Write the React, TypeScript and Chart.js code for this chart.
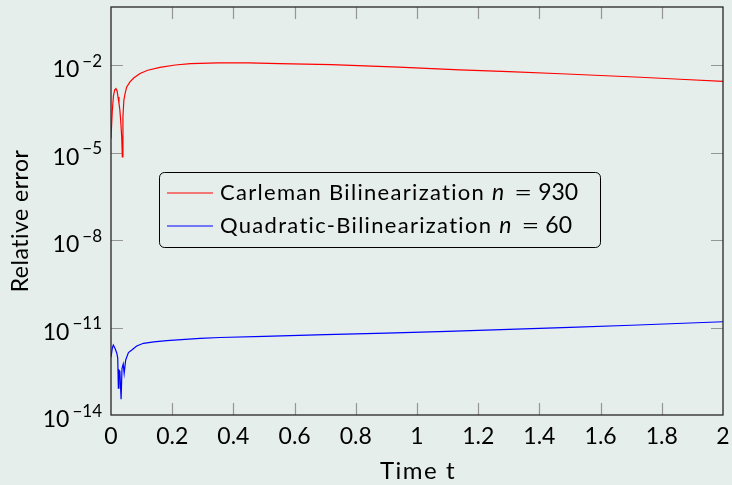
import { useEffect, useRef } from "react";
import { Chart, registerables } from "chart.js";

Chart.register(...registerables);

// Relative error over time, stored as log10 of the error.
const carlemanTime = [
  0, 0.004, 0.008, 0.012, 0.016, 0.02, 0.023, 0.026, 0.029, 0.032, 0.035, 0.037,
  0.039, 0.042, 0.046, 0.051, 0.062, 0.075, 0.095, 0.12, 0.16, 0.21, 0.26, 0.35,
  0.45, 0.55, 0.72, 0.94, 1.14, 1.3, 1.47, 1.6, 1.73, 1.86, 2.0,
];
const carlemanLog10Error = [
  -4.51, -3.6, -3.05, -2.85, -2.8, -2.88, -3.09, -3.3, -3.54, -3.95, -4.46, -5.14,
  -3.77, -3.2, -2.97, -2.75, -2.57, -2.43, -2.28, -2.17, -2.07, -1.99, -1.94, -1.92,
  -1.92, -1.94, -1.98, -2.06, -2.16, -2.22, -2.29, -2.35, -2.41, -2.48, -2.55,
];

const quadraticTime = [
  0, 0.004, 0.0075, 0.013, 0.019, 0.022, 0.024, 0.026, 0.029, 0.033, 0.036, 0.04,
  0.043, 0.048, 0.057, 0.068, 0.084, 0.106, 0.14, 0.182, 0.291, 0.356, 0.5, 0.7,
  0.9, 1.1, 1.3, 1.5, 1.7, 1.85, 2.0,
];
const quadraticLog10Error = [
  -12.02, -11.72, -11.6, -11.71, -11.88, -12.05, -13.08, -12.46, -12.5, -13.46, -12.4, -12.25,
  -12.57, -12.11, -11.86, -11.77, -11.63, -11.54, -11.49, -11.45, -11.37, -11.34, -11.3, -11.245,
  -11.19, -11.13, -11.06, -10.99, -10.92, -10.86, -10.8,
];

const seriesNames = ["Carleman Bilinearization", "Quadratic-Bilinearization"];
const seriesOrders = [930, 60];
const seriesColors = ["#ff0000", "#0000ff"];

const timeTicks = [0, 0.2, 0.4, 0.6, 0.8, 1, 1.2, 1.4, 1.6, 1.8, 2];
const errorTickExponents = [-14, -11, -8, -5, -2];

const FONT = "Lato, 'Liberation Sans', sans-serif";
const BG = "rgb(229,238,235)";

const toPoints = (t: number[], e: number[]) => t.map((x, i) => ({ x, y: Math.pow(10, e[i]) }));

const framePlugin = {
  id: "frame",
  beforeDatasetsDraw(chart: any) {
    const { ctx, chartArea: a, scales } = chart;
    ctx.save();
    ctx.strokeStyle = "rgb(150,150,150)";
    ctx.lineWidth = 1.2;
    ctx.beginPath();
    for (const v of timeTicks) {
      const x = Math.round(scales.x.getPixelForValue(v)) + 0.5;
      if (v === 0 || v === 2) continue;
      ctx.moveTo(x, a.bottom);
      ctx.lineTo(x, a.bottom - 12);
      ctx.moveTo(x, a.top);
      ctx.lineTo(x, a.top + 12);
    }
    for (const e of errorTickExponents) {
      const y = Math.round(scales.y.getPixelForValue(Math.pow(10, e))) + 0.5;
      if (e === -14) continue;
      ctx.moveTo(a.left, y);
      ctx.lineTo(a.left + 12, y);
      ctx.moveTo(a.right, y);
      ctx.lineTo(a.right - 12, y);
    }
    ctx.stroke();
    ctx.restore();
  },
  afterDraw(chart: any) {
    const { ctx, chartArea: a, scales } = chart;
    ctx.save();
    // axis box
    ctx.strokeStyle = "#262626";
    ctx.lineWidth = 1.3;
    ctx.strokeRect(a.left, a.top, a.right - a.left, a.bottom - a.top);

    ctx.fillStyle = "#000";
    // x tick labels
    ctx.font = `23px ${FONT}`;
    ctx.textAlign = "center";
    ctx.textBaseline = "alphabetic";
    for (const v of timeTicks) {
      const x = scales.x.getPixelForValue(v);
      ctx.fillText(String(v), x, a.bottom + 28.5);
    }

    // y tick labels as powers of ten
    for (const e of errorTickExponents) {
      const y = scales.y.getPixelForValue(Math.pow(10, e));
      const sup = "\u2212" + Math.abs(e);
      ctx.font = `17px ${FONT}`;
      const ws = ctx.measureText(sup).width;
      ctx.font = `23px ${FONT}`;
      const wb = ctx.measureText("10").width;
      const right = a.left - 9;
      ctx.textAlign = "left";
      ctx.fillText("10", right - ws - wb - 3, y + 12);
      ctx.font = `17px ${FONT}`;
      ctx.fillText(sup, right - ws, y + 1.5);
    }

    // axis titles
    ctx.font = `24px ${FONT}`;
    ctx.textAlign = "center";
    (ctx as any).letterSpacing = "1.5px";
    ctx.fillText("Time t", (a.left + a.right) / 2 + 1, 479);
    (ctx as any).letterSpacing = "0.5px";
    ctx.save();
    ctx.translate(28, 221);
    ctx.rotate(-Math.PI / 2);
    ctx.font = `23px ${FONT}`;
    ctx.fillText("Relative error", 0, 0);
    ctx.restore();
    (ctx as any).letterSpacing = "0px";

    // legend
    const bx = 159.5, by = 172.5, bw = 441, bh = 75, r = 5;
    ctx.beginPath();
    ctx.moveTo(bx + r, by);
    ctx.arcTo(bx + bw, by, bx + bw, by + bh, r);
    ctx.arcTo(bx + bw, by + bh, bx, by + bh, r);
    ctx.arcTo(bx, by + bh, bx, by, r);
    ctx.arcTo(bx, by, bx + bw, by, r);
    ctx.closePath();
    ctx.fillStyle = BG;
    ctx.fill();
    ctx.strokeStyle = "#000";
    ctx.lineWidth = 1;
    ctx.stroke();

    seriesNames.forEach((name, i) => {
      const rowY = 193 + i * 33;
      ctx.strokeStyle = seriesColors[i];
      ctx.lineWidth = 1.2;
      ctx.beginPath();
      ctx.moveTo(167, rowY);
      ctx.lineTo(213, rowY);
      ctx.stroke();

      ctx.fillStyle = "#000";
      ctx.textAlign = "left";
      ctx.font = `22px ${FONT}`;
      const base = rowY + 6.5;
      (ctx as any).letterSpacing = "1.3px";
      ctx.fillText(name, 220, base);
      let x = 220 + ctx.measureText(name).width + 7;
      (ctx as any).letterSpacing = "0px";
      ctx.font = `italic 23px ${FONT}`;
      ctx.fillText("n", x, base);
      x += ctx.measureText("n").width + 10;
      ctx.font = `22px ${FONT}`;
      ctx.save();
      ctx.translate(x, base);
      ctx.scale(1.4, 1);
      ctx.fillText("=", 0, 0);
      ctx.restore();
      x += ctx.measureText("=").width * 1.4 + 6;
      ctx.font = `23px ${FONT}`;
      ctx.fillText(String(seriesOrders[i]), x, base);
    });
    ctx.restore();
  },
};

export default function App() {
  const canvasRef = useRef<HTMLCanvasElement | null>(null);

  useEffect(() => {
    const canvas = canvasRef.current;
    if (!canvas) return;
    const chart = new Chart(canvas, {
      type: "line",
      data: {
        datasets: [
          {
            label: seriesNames[0],
            data: toPoints(carlemanTime, carlemanLog10Error),
            borderColor: seriesColors[0],
            borderWidth: 1.2,
            pointRadius: 0,
            tension: 0,
            fill: false,
          },
          {
            label: seriesNames[1],
            data: toPoints(quadraticTime, quadraticLog10Error),
            borderColor: seriesColors[1],
            borderWidth: 1.2,
            pointRadius: 0,
            tension: 0,
            fill: false,
          },
        ],
      },
      options: {
        responsive: false,
        animation: false,
        events: [],
        layout: { padding: { left: 0, right: 9, top: 7, bottom: 0 } },
        plugins: { legend: { display: false }, tooltip: { enabled: false } },
        scales: {
          x: {
            type: "linear",
            min: 0,
            max: 2,
            grid: { display: false },
            border: { display: false },
            ticks: { display: false },
            afterBuildTicks: (s: any) => {
              s.ticks = timeTicks.map((v) => ({ value: v }));
            },
            afterFit: (s: any) => {
              s.height = 70;
            },
          },
          y: {
            type: "logarithmic",
            min: 1e-14,
            max: 1,
            grid: { display: false },
            border: { display: false },
            ticks: { display: false },
            afterBuildTicks: (s: any) => {
              s.ticks = errorTickExponents.map((e) => ({ value: Math.pow(10, e) }));
            },
            afterFit: (s: any) => {
              s.width = 111;
            },
          },
        },
      },
      plugins: [framePlugin],
    });
    return () => chart.destroy();
  }, []);

  return (
    <div style={{ position: "fixed", left: 0, top: 0, width: 732, height: 485, background: BG }}>
      <canvas ref={canvasRef} width={732} height={485} style={{ display: "block" }} />
    </div>
  );
}
